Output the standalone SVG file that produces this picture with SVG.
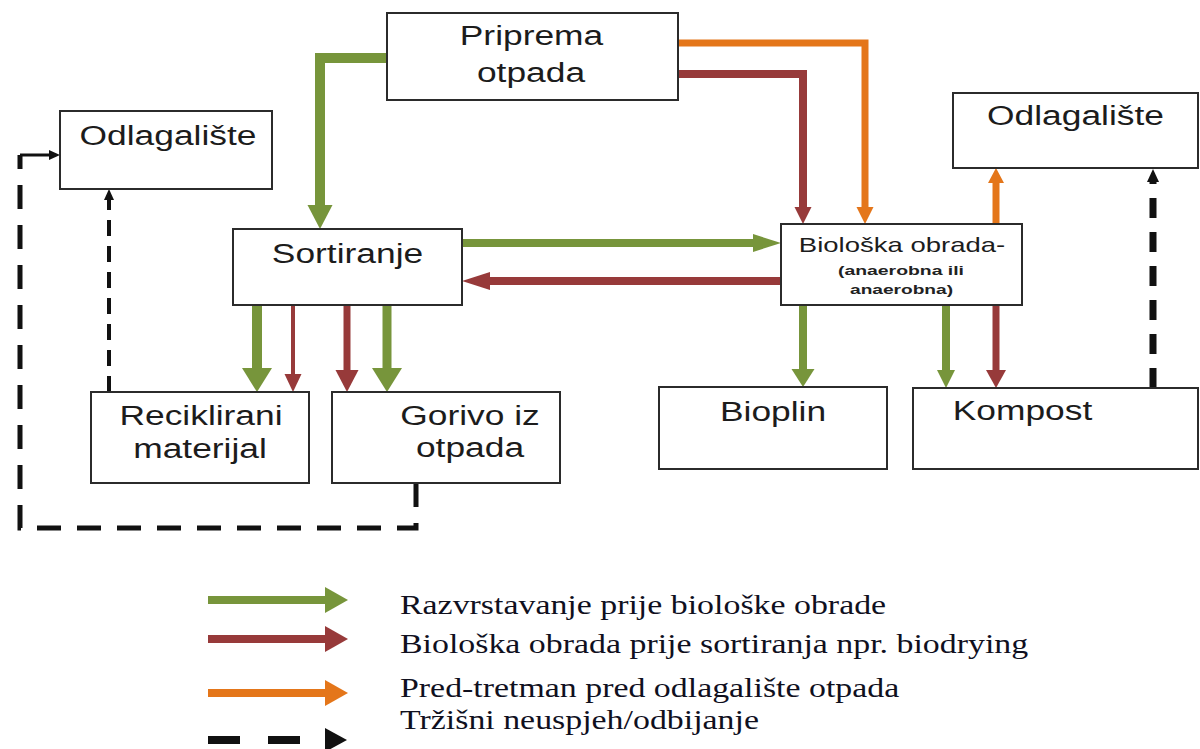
<svg xmlns="http://www.w3.org/2000/svg" width="1200" height="749" viewBox="0 0 1200 749">
<style>
.box{fill:#fff;stroke:#2b2b2b;stroke-width:2}
.lbl{font-family:"Liberation Sans",Arial,sans-serif;fill:#1c1c1c;font-size:27px;text-anchor:middle}
.sm{font-family:"Liberation Sans",Arial,sans-serif;fill:#222;font-size:13px;font-weight:bold}
.leg{font-family:"Liberation Serif","Times New Roman",serif;fill:#10101e;font-size:28px}
.g{stroke:#77953b;fill:none}
.r{stroke:#973a3a;fill:none}
.o{stroke:#e4761a;fill:none}
.k{stroke:#111;fill:none}
.gf{fill:#77953b}
.rf{fill:#973a3a}
.of{fill:#e4761a}
.kf{fill:#111}
</style>
<rect width="1200" height="749" fill="#fff"/>
<g id="connectors">
  <path class="g" stroke-width="10" d="M387 58 H320 V205"/>
  <polygon class="gf" points="307.5,205 332.5,205 320,229"/>
  <path class="o" stroke-width="7" d="M678 43 H865 V207"/>
  <polygon class="of" points="856.5,207 873.5,207 865,224"/>
  <path class="r" stroke-width="8" d="M678 74 H803 V207"/>
  <polygon class="rf" points="794.5,207 811.5,207 803,224"/>
  <path class="g" stroke-width="8" d="M462 243 H753"/>
  <polygon class="gf" points="753,234 753,252 781,243"/>
  <path class="r" stroke-width="8" d="M781 281 H490"/>
  <polygon class="rf" points="490,272 490,290 462,281"/>
  <path class="g" stroke-width="10" d="M257 305 V368"/>
  <polygon class="gf" points="242,368 272,368 257,392"/>
  <path class="r" stroke-width="4" d="M293 305 V374"/>
  <polygon class="rf" points="284.5,374 301.5,374 293,392"/>
  <path class="r" stroke-width="7" d="M347 305 V370"/>
  <polygon class="rf" points="335.5,370 358.5,370 347,392"/>
  <path class="g" stroke-width="9" d="M387 305 V368"/>
  <polygon class="gf" points="372,368 402,368 387,392"/>
  <path class="g" stroke-width="8" d="M803 305 V369"/>
  <polygon class="gf" points="791.5,369 814.5,369 803,387"/>
  <path class="g" stroke-width="8" d="M946 305 V370"/>
  <polygon class="gf" points="937,370 955,370 946,388"/>
  <path class="r" stroke-width="7" d="M996 305 V370"/>
  <polygon class="rf" points="986,370 1006,370 996,388"/>
  <path class="o" stroke-width="7" d="M996 224 V183"/>
  <polygon class="of" points="988,183 1004,183 996,168"/>
  <path class="k" stroke-width="7" stroke-dasharray="20,14" d="M1153 388 V182"/>
  <polygon class="kf" points="1147,182 1159,182 1153,169"/>
  <path class="k" stroke-width="5" stroke-dasharray="24,16" d="M416 483 V528 H20 V155"/>
  <path class="k" stroke-width="3" d="M20 155 H50"/>
  <polygon class="kf" points="49,150 49,160 60,155"/>
  <path class="k" stroke-width="4" stroke-dasharray="16,10" d="M109 392 V200"/>
  <polygon class="kf" points="104,200 114,200 109,189"/>
</g>
<g id="priprema">
  <rect class="box" x="387" y="13" width="291" height="87"/>
  <text class="lbl" transform="translate(531.5,45) scale(1.31,1)">Priprema</text>
  <text class="lbl" transform="translate(531,82) scale(1.31,1)">otpada</text>
</g>
<g id="odlagaliste-left">
  <rect class="box" x="60" y="111" width="212" height="78"/>
  <text class="lbl" transform="translate(168,145) scale(1.31,1)">Odlagalište</text>
</g>
<g id="sortiranje">
  <rect class="box" x="233" y="229" width="229" height="76"/>
  <text class="lbl" transform="translate(347.5,263) scale(1.31,1)">Sortiranje</text>
</g>
<g id="bioloska">
  <rect class="box" x="781" y="224" width="241" height="81"/>
  <text class="lbl" style="font-size:21px" transform="translate(902,252) scale(1.31,1)">Biološka obrada-</text>
  <text class="sm" x="838" y="275" textLength="126" lengthAdjust="spacingAndGlyphs">(anaerobna ili</text>
  <text class="sm" x="850" y="294" textLength="103" lengthAdjust="spacingAndGlyphs">anaerobna)</text>
</g>
<g id="odlagaliste-right">
  <rect class="box" x="953" y="93" width="245" height="75"/>
  <text class="lbl" transform="translate(1075.5,125) scale(1.31,1)">Odlagalište</text>
</g>
<g id="reciklirani">
  <rect class="box" x="91" y="392" width="218" height="91"/>
  <text class="lbl" transform="translate(201,425) scale(1.31,1)">Reciklirani</text>
  <text class="lbl" transform="translate(200,458) scale(1.31,1)">materijal</text>
</g>
<g id="gorivo">
  <rect class="box" x="332" y="392" width="228" height="91"/>
  <text class="lbl" transform="translate(470,425) scale(1.31,1)">Gorivo iz</text>
  <text class="lbl" transform="translate(470,457) scale(1.31,1)">otpada</text>
</g>
<g id="bioplin">
  <rect class="box" x="659" y="387" width="228" height="82"/>
  <text class="lbl" transform="translate(773,421) scale(1.31,1)">Bioplin</text>
</g>
<g id="kompost">
  <rect class="box" x="913" y="388" width="285" height="81"/>
  <text class="lbl" transform="translate(1022.5,420) scale(1.31,1)">Kompost</text>
</g>
<g id="legend">
  <path class="g" stroke-width="8" d="M208 600 H325"/>
  <polygon class="gf" points="325,587 325,613 348,600"/>
  <path class="r" stroke-width="8" d="M208 639 H325"/>
  <polygon class="rf" points="325,626 325,652 348,639"/>
  <path class="o" stroke-width="8" d="M208 693 H325"/>
  <polygon class="of" points="325,680 325,706 348,693"/>
  <rect class="kf" x="208" y="736" width="32" height="8"/>
  <rect class="kf" x="268" y="736" width="32" height="8"/>
  <polygon class="kf" points="325,728 325,752 347,740"/>
  <g transform="translate(400,0) scale(1.21,1)">
    <text class="leg" x="0" y="614">Razvrstavanje prije biološke obrade</text>
    <text class="leg" x="0" y="653">Biološka obrada prije sortiranja npr. biodrying</text>
    <text class="leg" x="0" y="697">Pred-tretman pred odlagalište otpada</text>
    <text class="leg" x="0" y="729">Tržišni neuspjeh/odbijanje</text>
  </g>
</g>
</svg>
